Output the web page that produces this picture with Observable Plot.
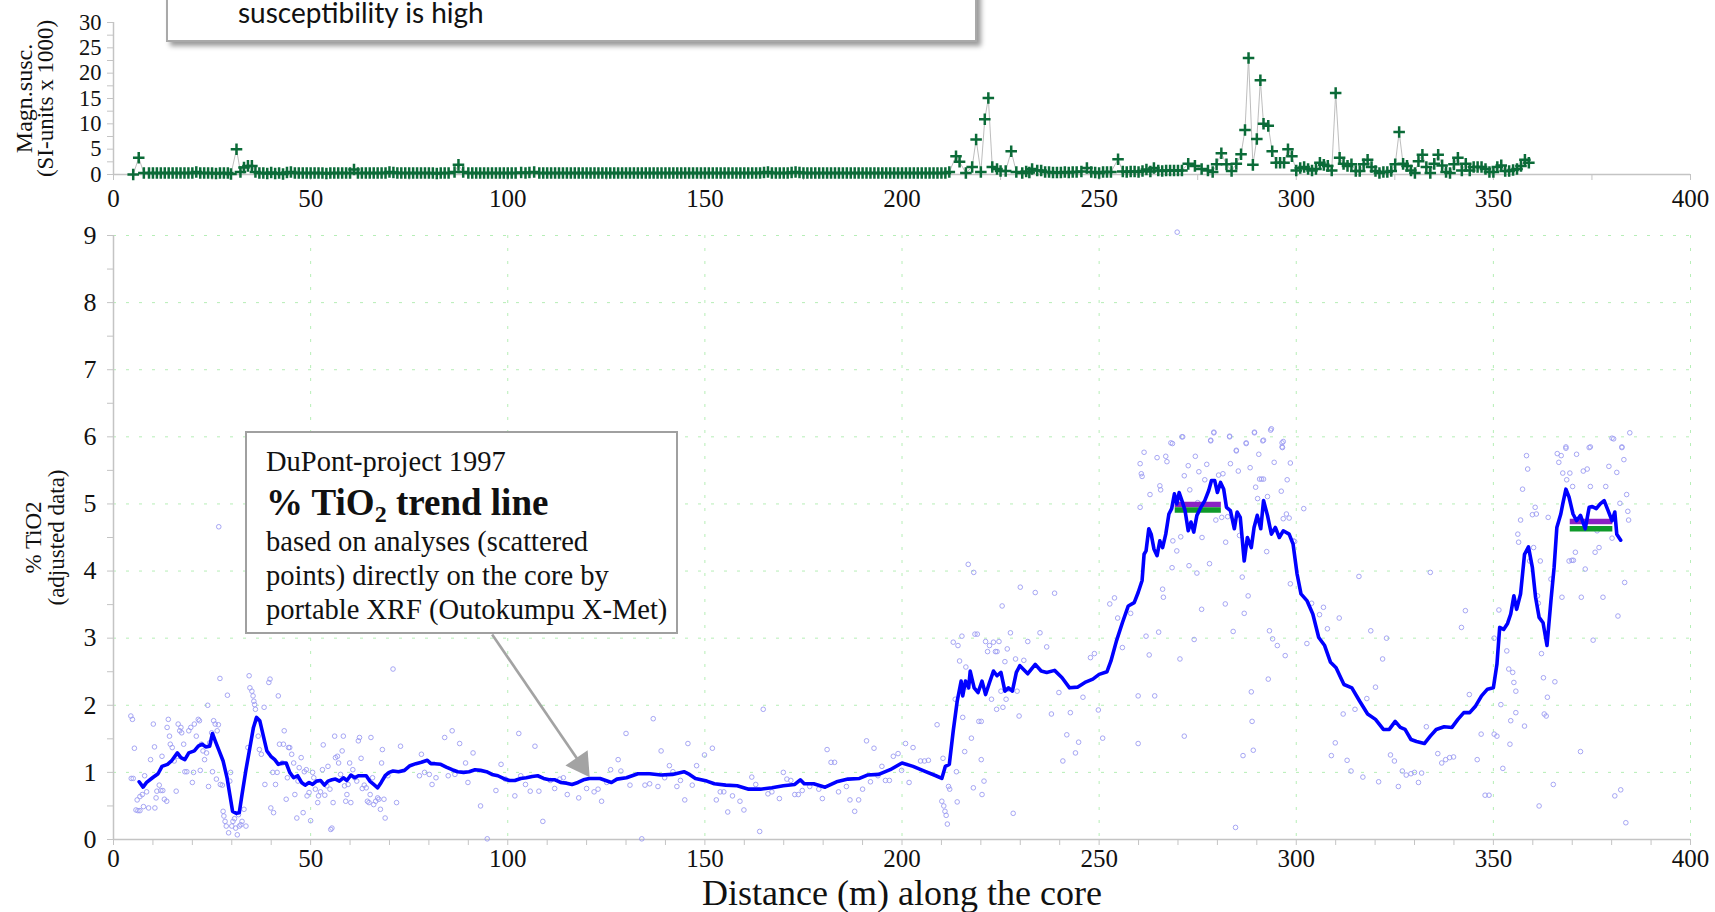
<!DOCTYPE html>
<html>
<head>
<meta charset="utf-8">
<script src="https://cdn.jsdelivr.net/npm/d3@7"></script>
<script src="https://cdn.jsdelivr.net/npm/@observablehq/plot@0.6"></script>
<style>
  html, body { margin: 0; padding: 0; background: #fff; }
  #wrap { position: relative; width: 1715px; height: 912px; overflow: hidden; background: #fff; }
  #topChart { position: absolute; left: 0; top: 0; }
  #bottomChart { position: absolute; left: 0; top: 212px; }
  .box1 { position: absolute; left: 166px; top: -44px; width: 807px; height: 82px;
          border: 2px solid #a9a9a9; background: #fff; box-shadow: 4px 4px 5px rgba(0,0,0,0.40); }
  .box1 .t { position: absolute; left: 70px; top: 37px; font-family: Lato, 'Open Sans', sans-serif;
             font-size: 28px; line-height: 34px; color: #111; white-space: nowrap; }
  .box2 { position: absolute; left: 245px; top: 431px; width: 429px; height: 199px;
          border: 2px solid #a0a0a0; background: #fff; font-family: 'Liberation Serif', 'Times New Roman', serif; color: #111; }
  .box2 .l { position: absolute; left: 19px; white-space: nowrap; font-size: 28.5px; line-height: 34px; }
  .box2 .b { font-weight: bold; font-size: 37px; line-height: 44px; }
  .box2 sub { font-size: 65%; vertical-align: -0.28em; line-height: 0; }
  svg text { font-family: 'Liberation Serif', 'Times New Roman', Times, serif; }
</style>
</head>
<body>
<div id="wrap">
  <div id="topChart"></div>
  <div id="bottomChart"></div>
  <div class="box1"><div class="t">susceptibility is high</div></div>
  <div class="box2">
    <div class="l" style="top:12px">DuPont-project 1997</div>
    <div class="l b" style="top:48px">% TiO<sub>2</sub> trend line</div>
    <div class="l" style="top:92px">based on analyses (scattered</div>
    <div class="l" style="top:126px">points) directly on the core by</div>
    <div class="l" style="top:160px">portable XRF (Outokumpu X-Met)</div>
  </div>
</div>
<script>
// ---------- tick values ----------
const xLabelTicks = [0, 50, 100, 150, 200, 250, 300, 350, 400];
const topXMinorTicks = [0, 25, 50, 75, 100, 125, 150, 175, 200, 225, 250, 275, 300, 325, 350, 375, 400];
const bottomXMinorTicks = [0,10,20,30,40,50,60,70,80,90,100,110,120,130,140,150,160,170,180,190,200,210,220,230,240,250,260,270,280,290,300,310,320,330,340,350,360,370,380,390,400];
const topYLabelTicks = [0, 5, 10, 15, 20, 25, 30];
const topYMinorTicks = [0, 2.5, 5, 7.5, 10, 12.5, 15, 17.5, 20, 22.5, 25, 27.5, 30];
const bottomYLabelTicks = [0, 1, 2, 3, 4, 5, 6, 7, 8, 9];
const bottomYMinorTicks = [0,0.5,1,1.5,2,2.5,3,3.5,4,4.5,5,5.5,6,6.5,7,7.5,8,8.5,9];
const gridYTicks = [1, 2, 3, 4, 5, 6, 7, 8, 9];
const gridXTicks = [50, 100, 150, 200, 250, 300, 350, 400];

// ---------- magnetic susceptibility (distance m, SI x 1000) ----------
const magSusc = [
[5,0],[6.4,3.3],[7.7,0.3],[9,0.3],[10,0.3],[11,0.3],[12,0.3],[13,0.3],[14,0.3],[15,0.3],[16,0.3],[17,0.3],[18,0.3],[19,0.3],[20,0.3],[21,0.5],[22,0.3],[23,0.3],[24,0.3],[25,0.3],[26,0.2],[27,0.3],[28,0.3],[29,0.3],[29.8,0.1],
[31.2,5.0],[32.2,0.5],[33.1,1.4],[34.1,1.7],[35.1,1.7],[36,0.5],[37,0.3],[38,0.3],[39,0.2],[40,0.4],[41,0.2],[42,0.3],[43,0.1],[44,0.4],[45,0.5],[46,0.3],[47,0.3],[48,0.3],[49,0.3],[50,0.3],
[51,0.3],[52,0.3],[53,0.3],[54,0.2],[55,0.3],[56,0.3],[57,0.3],[58,0.3],[59,0.3],[60,0.3],[61,1.0],[62,0.3],[63,0.3],[64,0.3],[65,0.3],[66,0.3],[67,0.3],[68,0.3],[69,0.3],[70,0.5],[71,0.4],[72,0.3],[73,0.3],[74,0.3],[75,0.3],
[76,0.3],[77,0.3],[78,0.3],[79,0.3],[80,0.3],[81,0.3],[82,0.2],[83,0.3],[84,0.3],[85,0.3],[86.5,0.5],[87.5,1.9],[88.7,0.5],[90,0.3],[91,0.3],[92,0.3],[93,0.3],[94,0.3],[95,0.3],[96,0.3],[97,0.3],[98,0.3],[99,0.3],[100,0.3],
[101,0.3],[102,0.3],[103.4,0.4],[104.5,0.3],[105.5,0.4],[106.7,0.5],[108,0.3],[109,0.3],[110,0.3],[111,0.3],[112,0.3],[113,0.3],[114,0.3],[115,0.3],[116,0.3],[117,0.3],[118,0.3],[119,0.3],[120,0.3],[121,0.3],[122,0.3],[123,0.3],[124,0.3],[125,0.3],
[126,0.3],[127,0.3],[128,0.3],[129,0.3],[130,0.3],[131,0.3],[132,0.3],[133,0.3],[134,0.3],[135,0.3],[136,0.3],[137,0.3],[138,0.3],[139,0.3],[140,0.3],[141,0.3],[142,0.3],[143,0.3],[144,0.3],[145,0.3],[146,0.3],[147,0.3],[148,0.3],[149,0.3],[150,0.3],
[151,0.3],[152,0.3],[153,0.3],[154,0.3],[155,0.3],[156,0.3],[157,0.3],[158,0.3],[159,0.3],[160,0.3],[161,0.3],[162,0.3],[163,0.3],[164,0.3],[165,0.4],[166,0.5],[167,0.3],[168,0.3],[169,0.3],[170,0.3],[171,0.3],[172,0.4],[173,0.5],[174,0.4],[175,0.3],
[176,0.3],[177,0.3],[178,0.3],[179,0.3],[180,0.3],[181,0.3],[182,0.3],[183,0.3],[184,0.3],[185,0.3],[186,0.3],[187,0.3],[188,0.3],[189,0.3],[190,0.3],[191,0.3],[192,0.3],[193,0.3],[194,0.3],[195,0.3],[196,0.3],[197,0.3],[198,0.3],[199,0.3],[200,0.3],
[201,0.3],[202,0.3],[203,0.3],[204,0.3],[205,0.3],[206,0.3],[207,0.3],[208,0.3],[209,0.3],[210,0.3],[211,0.3],[212,0.5],[213.7,3.6],[214.6,2.5],[216.2,0.3],[217.8,1.5],[218.8,6.9],[220,0.5],[221,10.9],[221.9,15.1],[222.9,1.5],[224.1,1.1],[225,0.7],
[226.3,0.7],[227.7,4.6],[229,0.5],[230.5,0.3],[231.5,0.6],[232.3,0.4],[233,1.1],[234.3,0.8],[235.3,0.8],[236.3,0.5],[237.3,0.5],[238.3,0.4],[239.3,0.4],[240.3,0.4],[241.3,0.5],[242.3,0.4],[243.3,0.5],[244.3,0.5],[245.5,0.6],[246.9,1.3],[248,0.5],[249,0.4],[250,0.3],
[251,0.5],[252,0.5],[253,0.5],[254.8,3.0],[256,0.6],[257,0.5],[258,0.6],[259,0.6],[260,0.5],[261,0.7],[262,1.0],[263,0.6],[263.9,1.3],[265,0.8],[266,0.7],[267,0.8],[268,0.8],[269,0.8],[270,0.8],[271,0.8],[272.6,2.1],[274.3,1.7],[276,1.1],[277.6,0.8],[278.8,0.5],
[279.8,2.0],[281,4.2],[282.3,2.0],[283.6,0.7],[284.8,2.1],[286,4.0],[287,8.8],[287.9,23.0],[289,1.9],[290,7.0],[290.9,18.6],[291.7,10.0],[292.9,9.6],[293.9,4.6],[294.9,2.3],[295.9,2.3],[296.9,2.3],[297.9,5.0],[298.9,3.6],[300,0.8],
[301,1.3],[302,1.5],[303,1.1],[304,0.8],[305,1.1],[306,2.3],[307,1.9],[308,1.7],[309,0.8],[310,16.1],[311,3.3],[312,2.1],[313,1.7],[314,2.0],[315.1,0.7],[316.1,0.7],[317.1,2.0],[318.1,2.9],[319.1,1.5],[320.1,0.7],[321.1,0.3],[322.1,0.5],[323.1,0.5],[324.1,0.7],[325.1,2.0],
[326.1,8.4],[327.1,2.1],[328.1,1.7],[329.1,0.8],[330.1,0.3],[331,2.6],[332,3.9],[333,1.5],[334,0.3],[335,2.1],[336,3.9],[337,1.8],[338,0.5],[339,0.3],[340,2.0],[341,3.3],[342,0.8],[343,2.1],[344,0.8],[345,1.5],[346,1.5],[347,1.5],[348,1.1],[349,0.5],[350,0.5],
[351,1.5],[352,1.8],[353,0.7],[354,0.7],[355,0.9],[356,1.1],[357,1.7],[358,2.9],[359,2.3]
];

// ---------- TiO2 trend line (distance m, % TiO2) ----------
const tio2Trend = [
[6.5,0.86],[7.5,0.78],[8.4,0.85],[9.9,0.92],[11.3,0.98],[12.3,1.09],[13.7,1.12],[14.7,1.17],[16.2,1.29],[17.1,1.22],[18.1,1.19],[19.1,1.29],[20.5,1.32],[21.5,1.39],[22.5,1.42],[23.4,1.38],[24.4,1.39],[25.1,1.58],[25.8,1.47],[26.8,1.32],[27.8,1.17],[28.8,0.92],[29.5,0.67],[30.2,0.42],[31.2,0.39],[31.9,0.40],[32.6,0.67],[33.6,1.04],[34.6,1.37],[35.5,1.67],[36.3,1.82],[37.1,1.77],[37.9,1.57],[38.9,1.32],[39.9,1.24],[40.9,1.19],[41.8,1.12],[42.8,1.14],[43.8,1.14],[44.7,1.0],[45.7,0.92],[46.7,0.95],[47.7,0.85],[48.6,0.81],[49.6,0.85],[50.5,0.82],[51.5,0.87],[52.5,0.88],[53.5,0.81],[54.4,0.87],[55.4,0.89],[56.3,0.9],[57.3,0.87],[58.3,0.92],[59.2,0.88],[60.2,0.96],[61.2,0.92],[62.1,0.95],[63.1,0.95],[64.1,0.95],[65.0,0.87],[66.0,0.82],[67.0,0.77],[67.9,0.85],[68.9,0.95],[69.9,1.0],[70.9,1.02],[72.3,1.01],[73.8,1.03],[75.2,1.10],[76.7,1.13],[78.1,1.15],[79.6,1.18],[80.5,1.13],[81.5,1.13],[83.0,1.12],[84.4,1.08],[85.9,1.04],[87.3,1.01],[88.8,1.0],[90.2,1.01],[91.7,1.04],[93.1,1.03],[94.6,1.01],[96.0,0.97],[97.5,0.95],[98.9,0.91],[100.4,0.88],[101.8,0.88],[103.3,0.91],[104.7,0.92],[106.2,0.94],[107.6,0.95],[109.1,0.91],[110.5,0.89],[112.0,0.89],[113.4,0.85],[114.9,0.84],[116.3,0.82],[117.8,0.85],[119.2,0.89],[120.7,0.91],[122.6,0.91],
[123.4,0.91],[126.3,0.85],[127.7,0.9],[130.1,0.92],[133.0,0.98],[136.0,0.98],[138.9,0.96],[141.8,0.97],[144.7,1.01],[146.1,0.97],[147.6,0.91],[150.5,0.87],[152.4,0.83],[155.3,0.81],[158.2,0.8],[161.1,0.75],[164.1,0.75],[167.0,0.77],[169.9,0.80],[172.8,0.82],[174.2,0.89],[175.2,0.83],[177.6,0.83],[180.5,0.78],[183.4,0.86],[186.3,0.9],[189.2,0.91],[191.2,0.96],[194.1,0.97],[197.0,1.04],[200.0,1.14],[202.8,1.09],[205.7,1.02],[208.6,0.95],[210.1,0.91],[211.0,1.09],[212.0,1.12],[213.0,1.62],[214.0,2.06],[215.0,2.36],[215.4,2.14],[216.1,2.36],[216.9,2.26],[217.3,2.51],[218.3,2.26],[219.3,2.19],[220.3,2.36],[221.2,2.16],[222.2,2.34],[223.2,2.51],[224.1,2.44],[225.1,2.49],[226.1,2.21],[227.0,2.26],[228.0,2.21],[229.0,2.49],[229.9,2.59],[231.9,2.47],[233.8,2.61],[235.3,2.51],[236.7,2.49],[238.7,2.52],[240.6,2.41],[242.5,2.26],[244.5,2.27],[246.4,2.34],[248.4,2.39],
[250.0,2.46],[252.0,2.5],[253.0,2.66],[254.4,2.96],[255.9,3.23],[257.4,3.48],[258.9,3.53],[259.9,3.68],[260.9,3.86],[261.4,4.25],[261.9,4.30],[262.6,4.63],[263.2,4.55],[263.9,4.33],[264.7,4.23],[265.4,4.45],[266.1,4.35],[266.9,4.55],[267.7,4.85],[268.4,4.93],[269.1,5.15],[269.7,5.0],[270.3,5.17],[271.0,5.05],[271.8,4.9],[272.6,4.60],[273.3,4.73],[274.0,4.58],[274.8,4.83],[275.8,4.95],[276.8,5.05],[277.8,5.2],[278.5,5.35],[279.3,5.35],[280.0,5.17],[280.8,5.32],[281.6,5.22],[282.3,4.95],[283.3,4.9],[284.3,4.63],[285.0,4.88],[285.8,4.80],[286.8,4.15],[287.6,4.50],[288.6,4.35],[289.3,4.65],[290.1,4.83],[291.0,4.63],[291.7,5.05],[292.7,4.83],[293.7,4.55],[294.7,4.65],[295.7,4.50],[296.7,4.60],[298.2,4.55],[299.2,4.40],[300.2,3.96],[301.2,3.66],[302.7,3.56],[304.2,3.36],[305.7,3.01],[307.2,2.89],[308.7,2.64],[310.1,2.56],[312.1,2.31],[314.1,2.26],[316.1,2.06],[318.1,1.87],[320.1,1.79],[322.1,1.64],[323.6,1.64],[325.1,1.76],[326.4,1.67],[327.6,1.64],[329.1,1.49],[330.5,1.46],[332.5,1.43],[334.0,1.54],[335.5,1.64],[337.5,1.68],[339.5,1.67],[341.0,1.79],[342.5,1.89],[344.0,1.89],[345.5,1.99],[347.0,2.14],[348.5,2.24],[350.0,2.26],[350.9,2.61],[351.6,3.16],[352.6,3.13],[353.6,3.22],[354.4,3.36],[355.2,3.63],[355.9,3.43],[356.9,3.66],[357.9,4.25],[358.9,4.36],[359.9,4.05],[360.7,3.61],[361.6,3.31],[362.6,3.23],[363.6,2.89],[364.6,3.56],[365.4,4.05],[366.1,4.65],[367.1,4.85],[367.6,5.0],[368.4,5.22],[369.2,5.1],[370.2,4.85],[371.1,4.75],[372.1,4.83],[373.3,4.63],[374.3,4.95],[375.1,4.96],[376.1,4.93],[377.1,5.0],[378.1,5.05],[379.1,4.90],[380.1,4.75],[380.8,4.88],[381.3,4.55],[382.3,4.46]
];

// ---------- TiO2 analyses (scattered points) ----------
const tio2Points = [
[4.4,1.84],[4.8,1.79],[5.3,1.36],[4.5,0.91],[5.0,0.91],[5.7,0.44],[6.2,0.43],[6.0,0.59],[6.7,0.43],[6.7,0.64],[7.3,0.67],[7.6,0.49],[7.9,0.95],[8.9,0.47],[8.4,0.71],[9.4,1.19],[10.1,1.72],[10.4,1.38],[10.5,0.47],[10.8,0.62],[11.0,0.72],[11.6,0.81],[12.0,0.73],[12.3,1.24],[12.5,0.73],[12.9,0.6],[13.5,0.57],[13.6,1.67],[13.9,1.79],[14.2,1.54],[14.4,1.42],[14.9,1.37],[15.4,1.17],[15.9,0.72],[16.2,1.24],[16.4,1.72],[16.8,1.62],[17.1,1.67],[17.3,1.59],[17.8,1.42],[18.1,1.01],[18.6,1.01],[19.1,1.62],[19.6,1.67],[20.0,0.85],[20.3,1.0],[20.5,1.72],[21.0,1.54],[21.5,1.79],[21.8,1.77],[22.0,1.03],[22.3,1.42],[22.7,1.32],[23.1,1.19],[23.6,1.29],[23.9,2.0],[24.1,0.79],[24.4,1.44],[24.9,1.59],[25.1,1.01],[25.4,1.77],[25.8,1.72],[26.1,0.9],[26.3,1.62],[26.6,1.71],[27.0,2.4],[27.1,0.82],[27.6,0.81],[27.8,0.42],[28.0,0.35],[28.3,0.27],[28.6,0.2],[28.9,2.15],[29.2,0.1],[29.5,0.87],[29.7,1.0],[30.0,0.2],[30.3,0.27],[30.7,0.31],[31.0,0.17],[31.4,0.07],[31.7,0.37],[31.9,0.2],[32.3,0.22],[32.6,0.27],[33.1,0.45],[33.6,0.2],[34.1,1.37],[34.4,2.44],[34.6,2.26],[35.1,2.21],[35.4,2.14],[35.6,2.06],[35.8,2.01],[36.0,1.94],[36.3,1.79],[36.7,1.54],[37.0,1.34],[37.5,1.27],[38.2,1.97],[38.4,0.82],[39.4,2.34],[39.7,2.39],[39.9,0.47],[40.4,1.0],[40.6,0.4],[41.1,0.82],[41.5,1.0],[41.8,2.14],[42.1,1.42],[42.8,1.14],[43.1,1.42],[43.3,1.62],[43.8,0.6],[44.1,0.92],[44.4,1.37],[44.7,1.37],[45.2,1.27],[45.7,1.14],[46.0,0.67],[46.5,0.32],[46.8,0.87],[47.1,1.07],[47.6,1.22],[48.1,0.4],[48.4,1.01],[48.9,1.04],[49.1,0.65],[49.6,0.7],[50.0,0.28],[50.5,1.0],[50.8,0.92],[51.2,0.75],[51.8,0.55],[52.0,0.65],[52.5,0.71],[53.0,1.04],[53.2,1.41],[53.6,0.66],[54.1,0.8],[54.4,1.09],[54.9,0.75],[55.1,0.15],[55.4,0.17],[55.7,0.55],[56.1,1.54],[56.3,1.22],[56.8,1.24],[57.1,1.14],[57.6,0.97],[58.0,1.32],[58.3,1.54],[58.6,0.8],[58.9,0.57],[59.2,0.67],[59.5,0.82],[59.9,1.14],[60.2,0.55],[60.7,1.04],[61.2,0.92],[61.7,0.87],[62.1,1.47],[62.4,1.52],[62.8,1.21],[63.1,0.76],[63.6,0.81],[64.1,0.77],[64.4,0.57],[64.8,0.55],[65.1,0.67],[65.3,1.52],[65.7,0.92],[66.0,0.52],[66.5,0.57],[67.0,0.62],[67.3,0.6],[67.7,0.45],[68.0,1.14],[68.2,1.34],[68.6,0.6],[68.9,0.32],[69.6,0.95],[70.9,2.54],[71.8,0.55],[72.8,1.39],[77.6,0.95],[78.1,1.27],[78.9,1.0],[80.1,0.97],[80.8,0.82],[81.8,0.92],[84.0,1.52],[84.9,0.95],[85.9,1.62],[86.6,0.97],[87.8,1.43],[89.3,1.14],[89.9,0.85],[91.2,1.29],[93.1,0.5],[94.8,0.01],[97.0,0.73],[98.3,1.12],[99.4,0.9],[101.8,0.65],[102.8,1.58],[103.3,0.95],[104.5,0.82],[105.7,0.72],[106.9,1.39],[107.9,0.72],[108.9,0.27],
[110.8,0.88],[111.9,0.76],[113.2,0.9],[114.1,0.92],[115.1,0.67],[118.0,0.62],[120.0,0.76],[121.9,0.71],[122.9,0.75],[123.8,0.57],[125.1,0.85],[126.1,1.04],[128.0,1.19],[128.7,1.02],[130.0,1.58],[131.0,0.81],[134.0,0.01],[134.8,0.81],[136.0,0.83],[136.9,1.8],[138.1,0.79],[138.9,1.32],[139.8,0.92],[141.0,1.1],[141.9,1.01],[142.9,0.79],[143.8,0.88],[144.9,0.59],[145.7,1.43],[146.8,0.81],[147.9,1.1],[149.9,1.26],[151.9,1.36],[152.9,0.59],[153.9,0.71],[154.8,0.71],[155.8,0.41],[157.0,0.65],[158.9,0.57],[159.9,0.44],[161.9,0.93],[162.9,0.82],[163.9,0.12],[164.8,1.94],[166.0,0.68],[167.0,0.71],[168.9,0.61],[169.9,1.0],[170.8,0.9],[171.8,0.88],[172.8,0.67],[173.7,0.67],[174.7,0.73],[176.6,0.79],[178.9,0.75],[179.8,0.61],[181.0,1.34],[182.0,1.15],[182.9,1.15],[183.9,0.71],[185.9,0.79],[186.8,0.59],[188.0,0.42],[189.0,0.59],[190.0,0.75],[191.0,1.47],[192.0,0.86],[192.9,1.36],[193.9,0.95],[194.9,1.09],[195.8,0.88],[196.8,0.88],[197.8,1.24],[199.0,1.28],[199.9,1.03],[200.9,1.43],[201.8,0.85],[202.8,1.37],[204.7,1.17],[205.7,1.17],[206.7,1.18],[208.9,1.71],[210.1,0.57],[210.4,1.21],[210.6,0.5],[210.9,0.42],[211.2,0.36],[211.5,0.23],[211.8,0.79],[212.1,0.75],[213.0,2.94],[213.5,2.09],[213.8,1.01],[214.0,0.56],[214.2,2.89],[214.6,2.66],[215.2,3.03],[215.4,1.82],[215.9,1.31],[216.2,2.57],[216.6,2.27],[216.9,2.34],[217.3,2.36],[217.6,1.51],[218.1,0.77],[218.5,3.06],[219.1,3.06],[219.5,1.76],[220.1,1.76],[220.1,1.19],[220.3,0.67],[220.8,0.87],[221.2,2.95],[221.7,2.8],[222.2,2.89],[222.7,2.09],[223.2,2.94],[223.7,2.8],[224.0,1.94],[224.1,2.8],[224.6,2.95],[225.1,2.21],[225.4,3.48],[225.6,1.97],[226.1,2.65],[226.4,2.09],[226.7,2.84],[227.0,2.24],[227.5,3.08],[228.2,0.39],[228.8,2.69],[229.2,2.21],[229.7,1.84],[230.0,3.76],[230.9,2.67],[231.9,2.95],[233.8,3.68],[235.0,3.08],[236.7,2.87],[237.9,1.87],[238.7,3.67],[239.8,2.19],[240.8,1.17],[241.8,1.56],[242.7,1.89],[244.0,1.29],[244.8,1.45],[245.9,2.12],[247.8,2.71],[248.8,2.77],[249.8,1.93],[258.0,3.37],[26.7,4.66],[216.8,4.1],[218.2,3.98],
[250.9,1.51],[252.7,3.51],[253.9,3.6],[254.7,3.3],[255.9,2.86],[259.9,2.14],[259.9,1.43],[260.4,5.6],[260.7,5.45],[260.9,5.41],[260.4,4.95],[261.4,5.77],[261.9,3.03],[262.7,2.75],[262.9,5.14],[264.1,2.14],[264.7,5.69],[265.4,5.27],[265.6,5.21],[265.1,3.09],[266.1,3.73],[266.3,3.61],[266.9,5.71],[267.2,5.63],[268.2,5.91],[268.5,4.05],[268.7,4.45],[269.7,4.3],[270.5,2.69],[270.7,4.51],[271.0,6.0],[271.6,1.54],[271.6,5.42],[272.6,5.57],[272.8,4.08],[273.0,5.21],[274.1,2.98],[274.4,5.71],[274.8,3.97],[275.0,5.02],[275.3,5.48],[276.0,3.43],[276.1,4.5],[276.8,5.36],[277.3,5.59],[278.0,4.11],[278.3,5.94],[279.1,6.06],[279.6,4.76],[280.3,5.43],[281.1,4.8],[281.4,5.45],[282.0,3.51],[282.1,4.43],[282.6,4.81],[283.1,6.01],[283.3,5.6],[284.0,3.1],[284.6,0.18],[284.8,5.79],[285.3,5.49],[285.6,4.53],[286.3,3.91],[286.5,1.25],[286.8,3.37],[287.3,5.91],[287.8,3.63],[288.3,5.54],[288.6,2.2],[288.8,1.76],[289.1,1.33],[289.4,6.06],[289.7,5.25],[290.2,5.08],[290.5,5.74],[290.7,5.37],[291.2,5.37],[291.5,5.94],[291.7,5.37],[292.5,4.29],[292.7,5.11],[292.9,2.39],[293.2,3.11],[293.5,6.1],[294.0,2.99],[294.4,5.62],[295.2,2.89],[296.2,5.19],[296.4,5.91],[296.5,5.84],[296.7,4.78],[297.2,2.74],[297.5,4.85],[297.7,5.36],[298.2,4.79],[298.5,5.61],[298.5,3.81],[299.3,4.45],[299.6,4.44],[301.9,4.93],[302.7,2.92],[303.9,3.52],[305.9,3.35],[306.9,3.46],[307.9,3.14],[308.9,1.25],[309.9,1.44],[310.9,3.3],[311.9,1.87],[312.9,1.18],[313.9,1.02],[314.9,1.94],[315.9,3.92],[316.9,0.93],[317.9,2.1],[318.9,3.11],[320.1,2.27],[320.9,0.86],[321.9,2.69],[322.9,3.0],[323.9,1.26],[324.9,1.17],[325.9,0.79],[326.9,1.02],[327.9,0.96],[329.1,0.98],[330.0,1.0],[331.0,0.85],[331.8,0.99],[333.0,1.68],[334.0,3.98],[335.9,1.28],[336.9,1.14],[337.9,1.19],[338.9,1.22],[339.9,1.23],[341.9,3.16],[342.9,3.41],[343.9,2.16],[345.9,1.19],[346.9,1.57],[347.9,0.66],[348.9,0.66],[350.2,1.57],[350.2,3.0],[350.9,1.54],[351.4,3.42],[351.9,2.01],[352.4,1.06],[353.4,2.81],[353.9,2.54],[354.2,1.42],[354.4,1.77],[354.9,2.49],[355.2,2.34],[355.7,2.21],[355.7,1.89],[356.2,4.55],[356.4,4.43],[356.9,4.76],[357.4,5.22],[357.9,1.69],[358.4,5.72],[358.7,5.52],[359.2,4.15],[359.9,4.84],[360.2,4.35],[360.6,4.95],[360.9,4.85],[361.2,3.63],[361.4,3.52],[361.6,0.5],[361.9,4.15],[362.2,2.77],[362.7,2.41],[362.9,1.87],[363.4,1.84],[363.7,2.12],[363.9,4.8],[364.6,3.88],[365.2,0.82],[365.6,2.35],[366.2,5.75],[366.6,5.62],[367.2,5.72],[367.4,3.61],[367.6,5.46],[368.4,5.83],[368.6,5.36],[369.2,4.15],[369.4,5.46],[369.9,4.16],[370.1,5.26],[370.3,4.16],[370.8,4.28],[371.1,5.74],[372.1,1.31],[372.3,3.61],[372.8,5.49],[373.3,4.03],[373.8,5.52],[374.3,5.84],[374.6,5.26],[375.3,2.97],[375.8,4.28],[376.3,4.6],[376.8,4.35],[377.8,3.61],[378.5,5.26],[379.3,5.56],[380.1,4.49],[380.5,5.97],[380.8,0.65],[381.3,5.47],[381.6,3.33],[382.1,5.01],[382.3,0.74],[382.6,5.84],[383.1,5.66],[383.3,3.83],[383.6,0.25],[383.8,5.14],[384.1,4.89],[384.3,4.76],[384.6,6.06],
[269.8,9.05],[268.6,5.9],[271.2,6.0],[279.1,6.07],[278.3,5.95],[283.1,6.0],[284.8,5.8],[287.3,5.9],[289.4,6.07],[291.7,5.95],[293.7,6.12],[296.7,5.93],[296.4,5.85],[368.4,5.85],[374.6,5.85],[380.1,5.98],[382.6,5.85]
];

// ---------- reference bars (distance from, to, % TiO2, colour) ----------
const barFrom  = [269.3, 269.3, 369.5, 369.5];
const barTo    = [281.0, 281.0, 380.3, 380.3];
const barValue = [4.99, 4.91, 4.74, 4.63];
const barColor = ["#8b22c4", "#0f9a2a", "#8b22c4", "#0f9a2a"];
const bars = barFrom.map((d, i) => ({x1: d, x2: barTo[i], y: barValue[i], c: barColor[i]}));

// ---------- annotation arrow (data coords) ----------
const arrowShaft = [{x1: 96.04, y1: 3.055, x2: 118.56, y2: 1.12}];
const arrowHead = [{x: 118.56, y: 1.12}];

const serif = "'Liberation Serif', 'Times New Roman', Times, serif";
const svgStyle = "font-family: 'Liberation Serif', 'Times New Roman', Times, serif; font-size: 25px; background: transparent; color: #111; overflow: visible;";
const W = 1715;
const axisGrey = "#c4c4c4";
const tickFont = 25;

// ---------- top chart ----------
const magData = magSusc.map(([d, v]) => ({d, v}));
const topChart = Plot.plot({
  width: W, height: 212,
  marginLeft: 113, marginRight: 25, marginTop: 22, marginBottom: 38,
  style: svgStyle,
  x: {domain: [0, 400], label: null},
  y: {domain: [0, 30], label: null},
  marks: [
    Plot.ruleY([0], {stroke: axisGrey, strokeWidth: 1.5}),
    Plot.ruleX([0], {stroke: axisGrey, strokeWidth: 1.5}),
    Plot.axisX({ticks: topXMinorTicks, tickSize: 6, tickFormat: () => "", stroke: axisGrey, label: null}),
    Plot.axisX({ticks: xLabelTicks, tickSize: 0, tickPadding: 15, fontSize: tickFont, fontFamily: serif, fill: "#111", label: null}),
    Plot.axisY({ticks: topYMinorTicks, tickSize: 6, tickFormat: () => "", stroke: axisGrey, label: null}),
    Plot.axisY({ticks: topYLabelTicks, tickSize: 0, tickPadding: 12, fontSize: 22.5, fontFamily: serif, fill: "#111", label: null}),
    Plot.line(magData, {x: "d", y: "v", stroke: "#b5b5b5", strokeWidth: 0.9}),
    Plot.dot(magData, {x: "d", y: "v", symbol: "plus", r: 3.8, stroke: "#0b6b38", strokeWidth: 2.5}),
    Plot.text(["Magn.susc."], {text: d => d, frameAnchor: "left", textAnchor: "middle", lineAnchor: "middle", dx: -89, rotate: -90, fontSize: 24, fontFamily: serif, fill: "#111"}),
    Plot.text(["(SI-units x 1000)"], {text: d => d, frameAnchor: "left", textAnchor: "middle", lineAnchor: "middle", dx: -68, rotate: -90, fontSize: 23, fontFamily: serif, fill: "#111"})
  ]
});
document.getElementById("topChart").appendChild(topChart);

// ---------- bottom chart ----------
const pts = tio2Points.map(([d, v]) => ({d, v}));
const trend = tio2Trend.map(([d, v]) => ({d, v}));
const gridGreen = "#b6eeb6";
const bottomChart = Plot.plot({
  width: W, height: 700,
  marginLeft: 113, marginRight: 25, marginTop: 23, marginBottom: 73,
  style: svgStyle,
  x: {domain: [0, 400], label: null},
  y: {domain: [0, 9], label: null},
  marks: [
    Plot.gridY({ticks: gridYTicks, stroke: gridGreen, strokeOpacity: 1, strokeWidth: 1, strokeDasharray: "3,10"}),
    Plot.gridX({ticks: gridXTicks, stroke: gridGreen, strokeOpacity: 1, strokeWidth: 1, strokeDasharray: "3,10"}),
    Plot.ruleY([0], {stroke: axisGrey, strokeWidth: 1.5}),
    Plot.ruleX([0], {stroke: axisGrey, strokeWidth: 1.5}),
    Plot.axisX({ticks: bottomXMinorTicks, tickSize: 6, tickFormat: () => "", stroke: axisGrey, label: null}),
    Plot.axisX({ticks: xLabelTicks, tickSize: 0, tickPadding: 10, fontSize: tickFont, fontFamily: serif, fill: "#111", label: null}),
    Plot.axisY({ticks: bottomYMinorTicks, tickSize: 6, tickFormat: () => "", stroke: axisGrey, label: null}),
    Plot.axisY({ticks: bottomYLabelTicks, tickSize: 0, tickPadding: 17, fontSize: 26, fontFamily: serif, fill: "#111", label: null}),
    Plot.dot(pts, {x: "d", y: "v", r: 2.3, stroke: "#9c9cf2", strokeWidth: 0.9, fill: "none"}),
    Plot.ruleY(bars, {y: "y", x1: "x1", x2: "x2", stroke: "c", strokeWidth: 5.5}),
    Plot.line(trend, {x: "d", y: "v", stroke: "#0000ff", strokeWidth: 3.6, strokeLinejoin: "round"}),
    Plot.link(arrowShaft, {x1: "x1", y1: "y1", x2: "x2", y2: "y2", stroke: "#a3a3a3", strokeWidth: 2.6}),
    Plot.dot(arrowHead, {x: "x", y: "y", symbol: "triangle", r: 10, fill: "#a3a3a3", stroke: "none", rotate: 145.6}),
    Plot.text(["% TiO2"], {text: d => d, frameAnchor: "left", textAnchor: "middle", lineAnchor: "middle", dx: -80, rotate: -90, fontSize: 23, fontFamily: serif, fill: "#111"}),
    Plot.text(["(adjusted data)"], {text: d => d, frameAnchor: "left", textAnchor: "middle", lineAnchor: "middle", dx: -57, rotate: -90, fontSize: 23, fontFamily: serif, fill: "#111"}),
    Plot.text(["Distance (m) along the core"], {text: d => d, frameAnchor: "bottom", textAnchor: "middle", lineAnchor: "middle", dy: 53.7, fontSize: 36, fontFamily: serif, fill: "#111"})
  ]
});
document.getElementById("bottomChart").appendChild(bottomChart);
</script>
</body>
</html>
